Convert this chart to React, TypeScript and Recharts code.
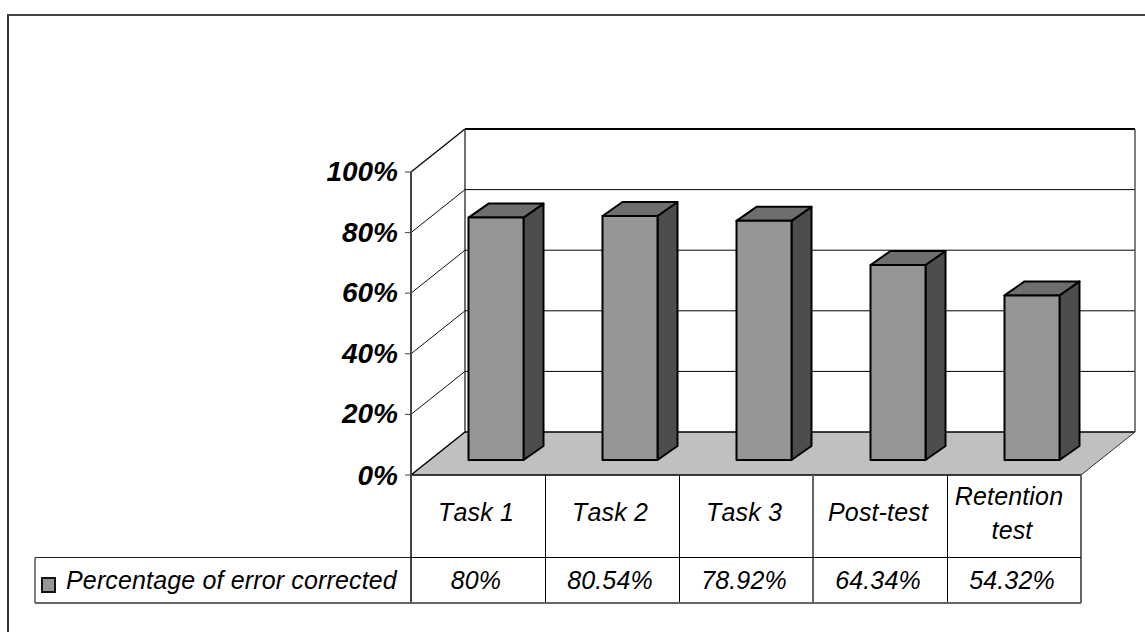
import { Bar, BarChart, CartesianGrid, XAxis, YAxis } from "recharts";

const categories = ["Task 1", "Task 2", "Task 3", "Post-test", "Retention test"];
const errorCorrected = [80, 80.54, 78.92, 64.34, 54.32];
const tableLabels = ["80%", "80.54%", "78.92%", "64.34%", "54.32%"];
const yTicks = [0, 20, 40, 60, 80, 100];
const seriesName = "Percentage of error corrected";

const chartData = categories.map((name, i) => ({ name, value: errorCorrected[i] }));

const WIDTH = 1145;
const HEIGHT = 632;
const AXIS_X = 411;
const FLOOR_Y = 475;
const PLOT_W = 670;
const BAND = PLOT_W / categories.length;
const DEPTH_X = 54;
const DEPTH_Y = 43;
const ROW_Y = 557.5;
const TABLE_BOTTOM = 603;
const LEGEND_X = 35;
const FONT = "'Liberation Sans', Arial, sans-serif";

function WallLine(props: any) {
  const { x1, x2, y1 } = props;
  const isFloor = Math.abs(y1 - FLOOR_Y) < 1;
  const isTop = y1 < 180;
  const backY = y1 - DEPTH_Y;
  if (isFloor) {
    return (
      <g>
        <polygon
          points={`${x1},${y1} ${x1 + DEPTH_X},${backY} ${x2 + DEPTH_X},${backY} ${x2},${y1}`}
          fill="#c0c0c0"
        />
        <line x1={x1 + DEPTH_X} y1={backY} x2={x2 + DEPTH_X} y2={backY} stroke="#000" strokeWidth={1.5} />
        <line x1={x1} y1={y1} x2={x1 + DEPTH_X} y2={backY} stroke="#000" strokeWidth={1.5} />
        <line x1={x2} y1={y1} x2={x2 + DEPTH_X} y2={backY} stroke="#333" strokeWidth={1} />
        <line x1={x1} y1={y1} x2={x2} y2={y1} stroke="#000" strokeWidth={1.5} />
      </g>
    );
  }
  return (
    <g>
      <line x1={x1} y1={y1} x2={x1 + DEPTH_X} y2={backY} stroke="#111" strokeWidth={isTop ? 1.5 : 1} />
      <line x1={x1 + DEPTH_X} y1={backY} x2={x2 + DEPTH_X} y2={backY} stroke="#000" strokeWidth={isTop ? 2 : 1} />
      {isTop && (
        <g>
          <line x1={x1 + DEPTH_X} y1={backY} x2={x1 + DEPTH_X} y2={backY + 303} stroke="#111" strokeWidth={1.2} />
          <line x1={x2 + DEPTH_X} y1={backY} x2={x2 + DEPTH_X} y2={backY + 303} stroke="#555" strokeWidth={1.5} />
          <line x1={x1} y1={y1} x2={x1} y2={TABLE_BOTTOM} stroke="#444" strokeWidth={2} />
        </g>
      )}
    </g>
  );
}

function Bar3D(props: any) {
  const { x, y, width, height } = props;
  // bars stand part way back on the floor
  const fx = x + 17.5;
  const fy = y - 15;
  const dx = 20;
  const dy = 14;
  const base = fy + height;
  return (
    <g stroke="#000" strokeWidth={2} strokeLinejoin="round">
      <polygon
        points={`${fx + width},${fy} ${fx + width + dx},${fy - dy} ${fx + width + dx},${base - dy} ${fx + width},${base}`}
        fill="#4d4d4d"
      />
      <polygon
        points={`${fx},${fy} ${fx + dx},${fy - dy} ${fx + width + dx},${fy - dy} ${fx + width},${fy}`}
        fill="#6e6e6e"
      />
      <rect x={fx} y={fy} width={width} height={height} fill="#969696" />
    </g>
  );
}

function PercentTick(props: any) {
  const { y, payload } = props;
  return (
    <g>
      <line x1={AXIS_X - 6} y1={y} x2={AXIS_X} y2={y} stroke="#444" strokeWidth={1} />
      <text
        x={398}
        y={y + (payload.value === 0 ? 10 : 9)}
        textAnchor="end"
        fontFamily={FONT}
        fontSize={28}
        fontWeight="bold"
        fontStyle="italic"
        fill="#000"
      >
        {payload.value}%
      </text>
    </g>
  );
}

function TableTick(props: any) {
  const { x, payload, index } = props;
  const right = x + BAND / 2;
  const grayEdge = index === 2 || index === categories.length - 1;
  const words = String(payload.value).length > 10 ? String(payload.value).split(" ") : [payload.value];
  const textProps = {
    fontFamily: FONT,
    fontSize: 25,
    fontStyle: "italic",
    fill: "#000",
    letterSpacing: 0.15,
    style: { fontKerning: "none" as const },
  };
  return (
    <g>
      <line
        x1={grayEdge ? right : right + 0.5}
        y1={FLOOR_Y}
        x2={grayEdge ? right : right + 0.5}
        y2={TABLE_BOTTOM}
        stroke={grayEdge ? "#666" : "#000"}
        strokeWidth={grayEdge ? 2 : 1}
      />
      <line x1={x - BAND / 2} y1={ROW_Y} x2={right} y2={ROW_Y} stroke="#000" strokeWidth={1} />
      <line x1={x - BAND / 2} y1={TABLE_BOTTOM} x2={right} y2={TABLE_BOTTOM} stroke="#666" strokeWidth={2} />
      {words.length === 1 ? (
        <text x={x - 2} y={521} textAnchor="middle" {...textProps}>
          {words[0]}
        </text>
      ) : (
        <text textAnchor="middle" {...textProps}>
          <tspan x={x - 5} y={505}>{words[0]}</tspan>
          <tspan x={x - 2} y={539}>{words[1]}</tspan>
        </text>
      )}
      <text x={x - 2} y={589} textAnchor="middle" {...textProps}>
        {tableLabels[index]}
      </text>
      {index === 0 && (
        <g>
          <line x1={LEGEND_X} y1={ROW_Y} x2={AXIS_X} y2={ROW_Y} stroke="#222" strokeWidth={1} />
          <line x1={LEGEND_X} y1={TABLE_BOTTOM} x2={AXIS_X} y2={TABLE_BOTTOM} stroke="#666" strokeWidth={2} />
          <line x1={LEGEND_X} y1={ROW_Y} x2={LEGEND_X} y2={TABLE_BOTTOM} stroke="#555" strokeWidth={1.5} />
          <rect x={42} y={578} width={13} height={14} fill="#969696" stroke="#111" strokeWidth={2} />
          <text x={66} y={589} {...textProps}>
            {seriesName}
          </text>
        </g>
      )}
    </g>
  );
}

export default function App() {
  return (
    <div style={{ position: "absolute", left: 0, top: 0, width: WIDTH, height: HEIGHT, background: "#fff", overflow: "hidden" }}>
      {/* frame of the original is cut off on the right and bottom */}
      <div
        style={{
          position: "absolute",
          left: 7,
          top: 14,
          width: WIDTH,
          height: HEIGHT,
          borderTop: "2px solid #444",
          borderLeft: "2px solid #333",
        }}
      />
      <BarChart
        width={WIDTH}
        height={HEIGHT}
        data={chartData}
        margin={{ top: 172, right: WIDTH - AXIS_X - PLOT_W, bottom: HEIGHT - TABLE_BOTTOM, left: AXIS_X - 60 }}
      >
        <CartesianGrid horizontal={(p: any) => <WallLine key={p.key} {...p} />} vertical={false} />
        <XAxis
          dataKey="name"
          height={TABLE_BOTTOM - FLOOR_Y}
          interval={0}
          axisLine={false}
          tickLine={false}
          tick={(p: any) => <TableTick {...p} />}
        />
        <YAxis
          width={60}
          domain={[0, 100]}
          ticks={yTicks}
          axisLine={false}
          tickLine={false}
          tick={(p: any) => <PercentTick {...p} />}
        />
        <Bar dataKey="value" barSize={55} isAnimationActive={false} shape={(p: any) => <Bar3D {...p} />} />
      </BarChart>
    </div>
  );
}
